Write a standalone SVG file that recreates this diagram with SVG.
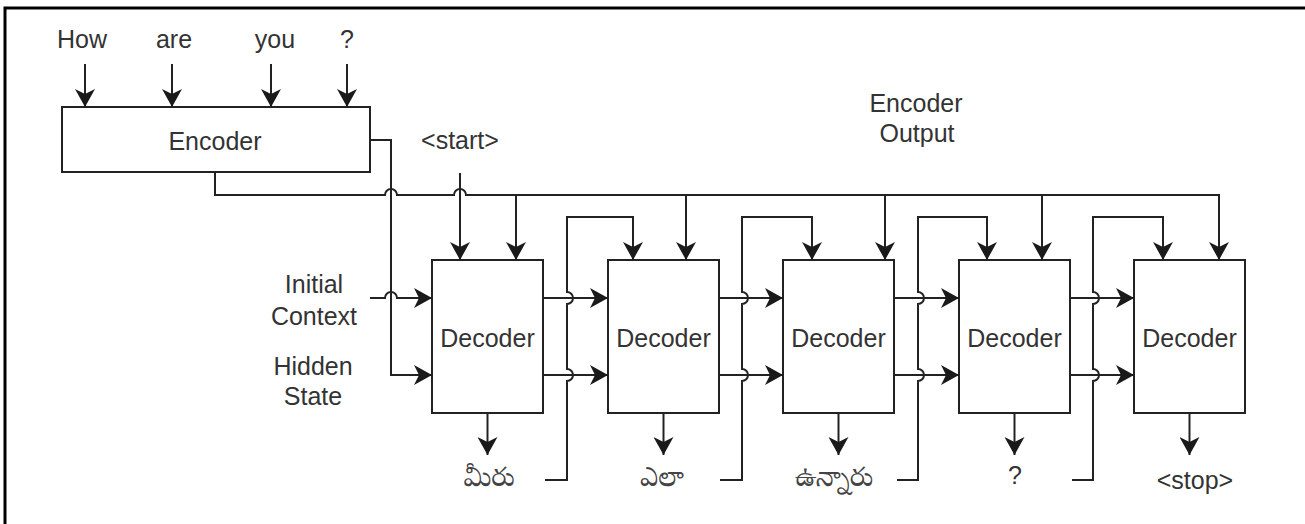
<svg xmlns="http://www.w3.org/2000/svg" width="1305" height="524" viewBox="0 0 1305 524">
<style>
.box{fill:#fff;stroke:#222;stroke-width:2}
.ln{fill:none;stroke:#222;stroke-width:2}
.ar{marker-end:url(#ah)}
.t{font-family:"Liberation Sans",Arial,sans-serif;font-size:25px;fill:#333;text-anchor:middle}
.te{font-family:"Noto Serif Telugu","Noto Sans Telugu","Lohit Telugu","Gautami",sans-serif;font-size:27px;fill:#444;text-anchor:middle}
</style>
<defs>
<marker id="ah" viewBox="0 0 18 20" refX="18" refY="10" markerWidth="18" markerHeight="20" markerUnits="userSpaceOnUse" orient="auto">
<path d="M0,0 L18,10 L0,20 L5,10 Z" fill="#1a1a1a"/>
</marker>
</defs>
<rect width="1305" height="524" fill="#fff"/>
<path d="M5,524 V8 H1305" fill="none" stroke="#000" stroke-width="3"/>

<g id="inputs">
<text class="t" x="82" y="48">How</text>
<text class="t" x="174" y="48">are</text>
<text class="t" x="275" y="48">you</text>
<text class="t" x="347" y="48">?</text>
</g>

<g id="encoder">
<rect class="box" x="62" y="107" width="308" height="65"/>
<text class="t" x="215" y="150">Encoder</text>
</g>

<g id="labels">
<text class="t" x="460" y="149">&lt;start&gt;</text>
<text class="t" x="916" y="112">Encoder</text>
<text class="t" x="917" y="142">Output</text>
<text class="t" x="314" y="293">Initial</text>
<text class="t" x="314" y="325">Context</text>
<text class="t" x="313" y="375">Hidden</text>
<text class="t" x="313" y="405">State</text>
</g>

<g id="decoder1">
<rect class="box" x="432" y="260" width="111" height="153"/>
<text class="t" x="487.5" y="347">Decoder</text>
</g>
<g id="decoder2">
<rect class="box" x="608" y="260" width="111" height="153"/>
<text class="t" x="663.5" y="347">Decoder</text>
</g>
<g id="decoder3">
<rect class="box" x="783" y="260" width="111" height="153"/>
<text class="t" x="838.5" y="347">Decoder</text>
</g>
<g id="decoder4">
<rect class="box" x="959" y="260" width="111" height="153"/>
<text class="t" x="1014.5" y="347">Decoder</text>
</g>
<g id="decoder5">
<rect class="box" x="1134" y="260" width="111" height="153"/>
<text class="t" x="1189.5" y="347">Decoder</text>
</g>

<g id="outputs">
<text class="te" x="489" y="486">మీరు</text>
<text class="te" x="662" y="486">ఎలా</text>
<text class="te" x="834" y="486">ఉన్నారు</text>
<text class="t" x="1015" y="484">?</text>
<text class="t" x="1195" y="489">&lt;stop&gt;</text>
</g>

<g id="connectors">
<path class="ln ar" d="M85,64 V107"/>
<path class="ln ar" d="M172,64 V107"/>
<path class="ln ar" d="M271,64 V107"/>
<path class="ln ar" d="M347,64 V107"/>
<path class="ln ar" d="M215,172 V195 H385 A6,6 0 0 1 397,195 H454 A6,6 0 0 1 466,195 H1219 V260"/>
<path class="ln ar" d="M516,195 V260"/>
<path class="ln ar" d="M686,195 V260"/>
<path class="ln ar" d="M885,195 V260"/>
<path class="ln ar" d="M1042,195 V260"/>
<path class="ln ar" d="M460,173 V260"/>
<path class="ln ar" d="M370,140 H391 V375 H432"/>
<path class="ln ar" d="M370,298 H385 A6,6 0 0 1 397,298 H432"/>
<path class="ln ar" d="M543,298 H608"/>
<path class="ln ar" d="M543,375 H608"/>
<path class="ln ar" d="M719,298 H783"/>
<path class="ln ar" d="M719,375 H783"/>
<path class="ln ar" d="M894,298 H959"/>
<path class="ln ar" d="M894,375 H959"/>
<path class="ln ar" d="M1070,298 H1134"/>
<path class="ln ar" d="M1070,375 H1134"/>
<path class="ln ar" d="M487.5,413 V455"/>
<path class="ln ar" d="M663.5,413 V455"/>
<path class="ln ar" d="M838.5,413 V455"/>
<path class="ln ar" d="M1014.5,413 V455"/>
<path class="ln ar" d="M1189.5,413 V455"/>
<path class="ln ar" d="M545,480 H567 V381 A6,6 0 0 0 567,369 V304 A6,6 0 0 0 567,292 V217 H633 V260"/>
<path class="ln ar" d="M720,480 H742 V381 A6,6 0 0 0 742,369 V304 A6,6 0 0 0 742,292 V217 H812 V260"/>
<path class="ln ar" d="M897,480 H918 V381 A6,6 0 0 0 918,369 V304 A6,6 0 0 0 918,292 V217 H987 V260"/>
<path class="ln ar" d="M1072,480 H1093 V381 A6,6 0 0 0 1093,369 V304 A6,6 0 0 0 1093,292 V217 H1163 V260"/>
</g>
</svg>
